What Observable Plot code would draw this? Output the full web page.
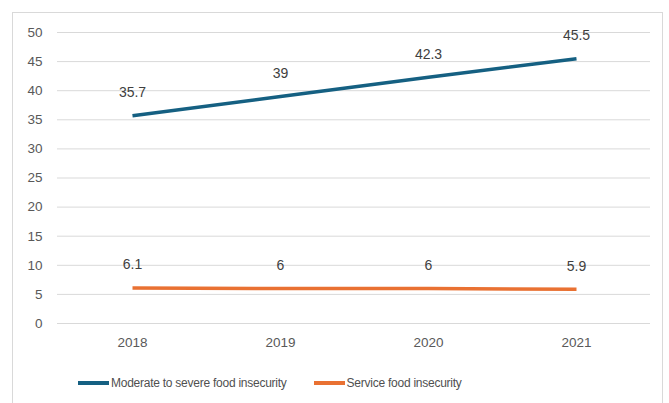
<!DOCTYPE html>
<html><head><meta charset="utf-8">
<script src="https://cdn.jsdelivr.net/npm/d3@7"></script>
<script src="https://cdn.jsdelivr.net/npm/@observablehq/plot@0.6"></script>
<style>
body{margin:0;background:#fff;font-family:"Liberation Sans",Arial,sans-serif;}
#wrap{position:relative;width:669px;height:403px;overflow:hidden;}
#frame{position:absolute;left:12px;top:12px;width:651px;height:400px;border:1px solid #d9d9d9;box-sizing:border-box;}
#chart{position:absolute;left:0;top:0;}
#legend{position:absolute;top:376px;left:78px;display:flex;align-items:center;font-size:12px;letter-spacing:-0.25px;color:#505050;white-space:nowrap;}
.sw{display:inline-block;width:31px;height:4px;margin-right:2px;}
.item{display:flex;align-items:center;margin-right:27px;}
</style></head>
<body><div id="wrap"><div id="frame"></div><div id="chart"></div><div id="legend"></div></div>
<script>
const years = ["2018","2019","2020","2021"];
const moderateSevere = [35.7, 39, 42.3, 45.5];
const serviceInsecurity = [6.1, 6, 6, 5.9];
const seriesNames = ["Moderate to severe food insecurity","Service food insecurity"];
const seriesColors = ["#156082","#E97132"];
const yTicks = [0,5,10,15,20,25,30,35,40,45,50];

const data = [];
years.forEach((y,i)=>{
  data.push({year:y, value:moderateSevere[i], series:seriesNames[0]});
  data.push({year:y, value:serviceInsecurity[i], series:seriesNames[1]});
});

const chart = Plot.plot({
  width:669, height:360,
  marginLeft:57, marginRight:19, marginTop:32, marginBottom:37,
  style:{fontFamily:"Liberation Sans, Arial, sans-serif", fontSize:"13.5px", color:"#595959", background:"transparent"},
  x:{type:"point", domain:years, padding:0.5, label:null, tickSize:0, tickPadding:14},
  y:{domain:[0,50], ticks:yTicks, label:null, tickSize:0, tickPadding:15},
  color:{domain:seriesNames, range:seriesColors},
  marks:[
    Plot.gridY(yTicks, {stroke:"#d9d9d9", strokeOpacity:1, strokeWidth:1}),
    Plot.axisX({tickSize:0, tickPadding:14, fill:"#595959", fontSize:13.5}),
    Plot.axisY({ticks:yTicks, tickSize:0, tickPadding:15, fill:"#595959", fontSize:13.5}),
    Plot.line(data, {x:"year", y:"value", z:"series", stroke:"series", strokeWidth:3.5, strokeLinecap:"butt"}),
    Plot.text(data, {x:"year", y:"value", text:d=>String(d.value), dy:-23, fill:"#404040", fontSize:14})
  ]
});
document.getElementById("chart").appendChild(chart);

const lg = document.getElementById("legend");
seriesNames.forEach((n,i)=>{
  const it = document.createElement("span"); it.className="item";
  const sw = document.createElement("span"); sw.className="sw"; sw.style.background=seriesColors[i];
  it.appendChild(sw); it.appendChild(document.createTextNode(n));
  lg.appendChild(it);
});
</script></body></html>
